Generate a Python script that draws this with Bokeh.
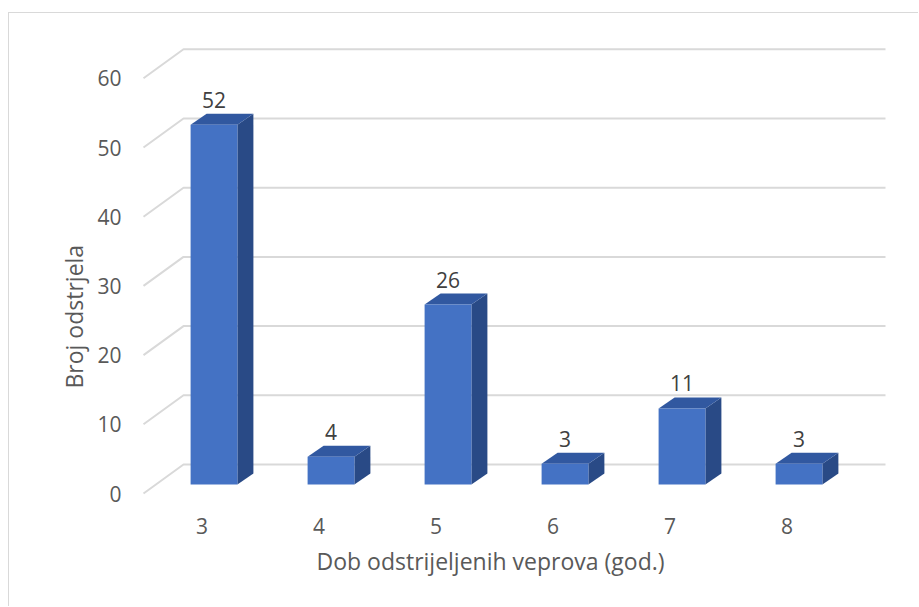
from bokeh.plotting import figure
from bokeh.models import Range1d, LinearAxis, FixedTicker, Title
from bokeh.embed import file_html
from bokeh.resources import INLINE
from bokeh.core.properties import value

# ---- data ----
ages = [3, 4, 5, 6, 7, 8]
counts = [52, 4, 26, 3, 11, 3]
y_ticks = [0, 10, 20, 30, 40, 50, 60]
x_title = "Dob odstrijeljenih veprova (god.)"
y_title = "Broj odstrjela"

# ---- layout / style constants ----
W, H = 910, 594
ML, MB = 121, 99
PX_X = 117.0     # pixels per category step
PX_Y = 6.92      # pixels per count unit
X_PAD = 83.5     # px from frame left to first category (bar front plane)
Y_PAD = 24.0     # px from frame bottom to zero (bar front plane)
FONT = "Open Sans"
FS = "21px"
FS_T = "23px"
TXT = "#595959"
GRID = "#D9D9D9"
FRONT = "#4472C4"
TOP = "#3158A0"
SIDE = "#294A86"

frame_w = W - ML
frame_h = H - MB
x0 = ages[0] - X_PAD / PX_X
x1 = x0 + frame_w / PX_X
y0 = -Y_PAD / PX_Y
y1 = y0 + frame_h / PX_Y

# depth offsets in data units
HALF = 0.2                        # half bar width (categories)
BDX, BDY = 16 / PX_X, 11 / PX_Y   # bar depth
FDX, FDY = -12 / PX_X, -9 / PX_Y  # floor front edge relative to bar front plane
KDX, KDY = 28 / PX_X, 20 / PX_Y   # back wall relative to bar front plane

p = figure(width=W, height=H, x_range=Range1d(x0, x1), y_range=Range1d(y0, y1),
           x_axis_location=None, y_axis_location=None,
           toolbar_location=None, output_backend="svg",
           min_border_left=ML, min_border_right=0, min_border_top=0,
           min_border_bottom=MB, outline_line_color=None)
for g in list(p.center):
    g.visible = False
p.styles = {"border-top": "1px solid #D9D9D9", "border-left": "1px solid #D9D9D9",
            "margin-top": "12px", "margin-left": "8px"}

# gridlines (floor front edge -> back wall)
a = ages[0] - 0.5
b = ages[-1] + 0.5
gxs = [[a + FDX, a + KDX, b + KDX] for _ in y_ticks]
gys = [[v + FDY, v + KDY, v + KDY] for v in y_ticks]
p.multi_line(gxs, gys, line_color=GRID, line_width=2)

# bars: side, top, front
side_xs = [[c + HALF, c + HALF + BDX, c + HALF + BDX, c + HALF] for c in ages]
side_ys = [[0, BDY, v + BDY, v] for v in counts]
top_xs = [[c - HALF, c + HALF, c + HALF + BDX, c - HALF + BDX] for c in ages]
top_ys = [[v, v, v + BDY, v + BDY] for v in counts]
p.patches(side_xs, side_ys, fill_color=SIDE, line_color=None)
p.patches(top_xs, top_ys, fill_color=TOP, line_color=None)
p.quad(left=[c - HALF for c in ages], right=[c + HALF for c in ages],
       bottom=[0] * len(ages), top=counts, fill_color=FRONT, line_color=None)

# data labels
p.text(x=ages, y=counts, text=[str(v) for v in counts], x_offset=0, y_offset=-25,
       text_align="center", text_baseline="middle", text_font=value(FONT),
       text_font_size=FS, text_color="#404040")

# axes on the floor-front plane
p.extra_x_ranges = {"front": Range1d(x0 - FDX, x1 - FDX)}
p.extra_y_ranges = {"front": Range1d(y0 - FDY, y1 - FDY)}

xaxis = LinearAxis(x_range_name="front", ticker=FixedTicker(ticks=ages),
                   axis_line_color=None, major_tick_line_color=None,
                   minor_tick_line_color=None, major_tick_out=0, major_tick_in=0,
                   major_label_standoff=9, major_label_text_font=FONT,
                   major_label_text_font_size=FS, major_label_text_color=TXT)
yaxis = LinearAxis(y_range_name="front", ticker=FixedTicker(ticks=y_ticks),
                   axis_line_color=None, major_tick_line_color=None,
                   minor_tick_line_color=None, major_tick_out=0, major_tick_in=0,
                   major_label_standoff=9, major_label_text_font=FONT,
                   major_label_text_font_size=FS, major_label_text_color=TXT)
p.add_layout(xaxis, "below")
p.add_layout(yaxis, "left")

p.add_layout(Title(text=x_title, align="left", offset=186, standoff=12,
                   text_font=FONT, text_font_size=FS_T, text_font_style="normal",
                   text_color=TXT), "below")
p.add_layout(Title(text=y_title, align="left", offset=120, standoff=10,
                   text_font=FONT, text_font_size=FS_T, text_font_style="normal",
                   text_color=TXT), "left")

open("out.html", "w").write(file_html(p, INLINE))
